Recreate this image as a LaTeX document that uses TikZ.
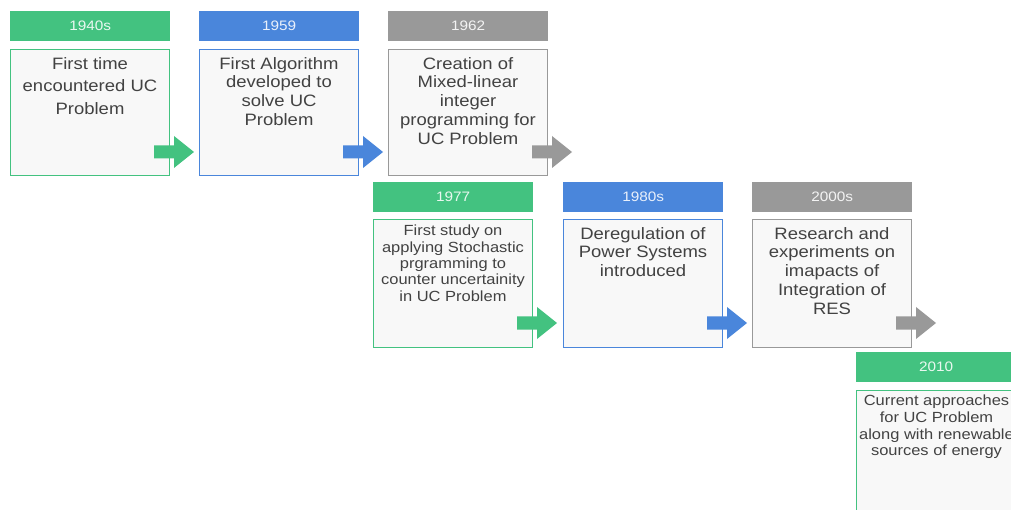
\documentclass[tikz,border=0pt]{standalone}
\usepackage{fontspec}
\setmainfont{Liberation Sans}[FakeStretch=1.12]
\usetikzlibrary{calc}
\definecolor{cgreen}{RGB}{67,194,128}
\definecolor{cblue}{RGB}{74,134,219}
\definecolor{cgray}{RGB}{153,153,153}
\definecolor{ctext}{RGB}{66,66,66}
\definecolor{cfill}{RGB}{248,248,248}
\tikzset{
  hdr/.style={fill=#1, draw=none, minimum width=160, minimum height=30, anchor=north west, inner sep=0, text=white!88!#1, font=\fontsize{13.7}{16}\selectfont},
  card/.style={draw=#1, fill=cfill, line width=1, minimum width=159, minimum height=126, anchor=north west, inner sep=0},
  bigtxt/.style={anchor=north, inner sep=0, align=center, text=ctext, font=\fontsize{16.5}{18.8}\selectfont},
  smalltxt/.style={anchor=north, inner sep=0, align=center, text=ctext, font=\fontsize{14.7}{16.3}\selectfont},
}
\newcommand{\blockarrow}[2]{\fill[#1] ($(#2)+(0,-6.5)$) -- ++(20,0) -- ++(0,-9.5) -- ++(20,16) -- ++(-20,16) -- ++(0,-9.5) -- ++(-20,0) -- cycle;}
\begin{document}
\begin{tikzpicture}[x=1pt,y=-1pt]
\useasboundingbox (0,0) rectangle (1011,510);
\clip (0,0) rectangle (1011,510);
% headers
\node[hdr=cgreen] (h1) at (10,11) {1940s};
\node[hdr=cblue]  (h2) at (199,11) {1959};
\node[hdr=cgray]  (h3) at (388,11) {1962};
\node[hdr=cgreen] (h4) at (373,182) {1977};
\node[hdr=cblue]  (h5) at (563,182) {1980s};
\node[hdr=cgray]  (h6) at (752,182) {2000s};
\node[hdr=cgreen] (h7) at (856,352) {2010};
% cards
\node[card=cgreen] (b1) at (10,49) {};
\node[card=cblue]  (b2) at (199,49) {};
\node[card=cgray]  (b3) at (388,49) {};
\node[card=cgreen, minimum height=128] (b4) at (373,219) {};
\node[card=cblue, minimum height=128]  (b5) at (563,219) {};
\node[card=cgray, minimum height=128]  (b6) at (752,219) {};
\node[card=cgreen, minimum width=160, minimum height=140] (b7) at (856,390) {};
% texts
\node[bigtxt, font=\fontsize{16.5}{22.5}\selectfont] (t1) at ($(b1.north)+(0,8)$) {First time\\encountered UC\\Problem};
\node[bigtxt] (t2) at ($(b2.north)+(0,8)$) {First Algorithm\\developed to\\solve UC\\Problem};
\node[bigtxt] (t3) at ($(b3.north)+(0,8)$) {Creation of\\Mixed-linear\\integer\\programming for\\UC Problem};
\node[smalltxt] (t4) at ($(b4.north)+(0,6)$) {First study on\\applying Stochastic\\prgramming to\\counter uncertainity\\in UC Problem};
\node[bigtxt] (t5) at ($(b5.north)+(0,8)$) {Deregulation of\\Power Systems\\introduced};
\node[bigtxt] (t6) at ($(b6.north)+(0,8)$) {Research and\\experiments on\\imapacts of\\Integration of\\RES};
\node[smalltxt, font=\fontsize{14.7}{16.7}\selectfont] (t7) at ($(b7.north)+(0,5)$) {Current approaches\\for UC Problem\\along with renewable\\sources of energy};
% arrows
\coordinate (a1) at ($(b1.south east)+(-16,-24)$);
\coordinate (a2) at ($(b2.south east)+(-16,-24)$);
\coordinate (a3) at ($(b3.south east)+(-16,-24)$);
\coordinate (a4) at ($(b4.south east)+(-16,-25)$);
\coordinate (a5) at ($(b5.south east)+(-16,-25)$);
\coordinate (a6) at ($(b6.south east)+(-16,-25)$);
\blockarrow{cgreen}{a1}
\blockarrow{cblue}{a2}
\blockarrow{cgray}{a3}
\blockarrow{cgreen}{a4}
\blockarrow{cblue}{a5}
\blockarrow{cgray}{a6}
\end{tikzpicture}
\end{document}
